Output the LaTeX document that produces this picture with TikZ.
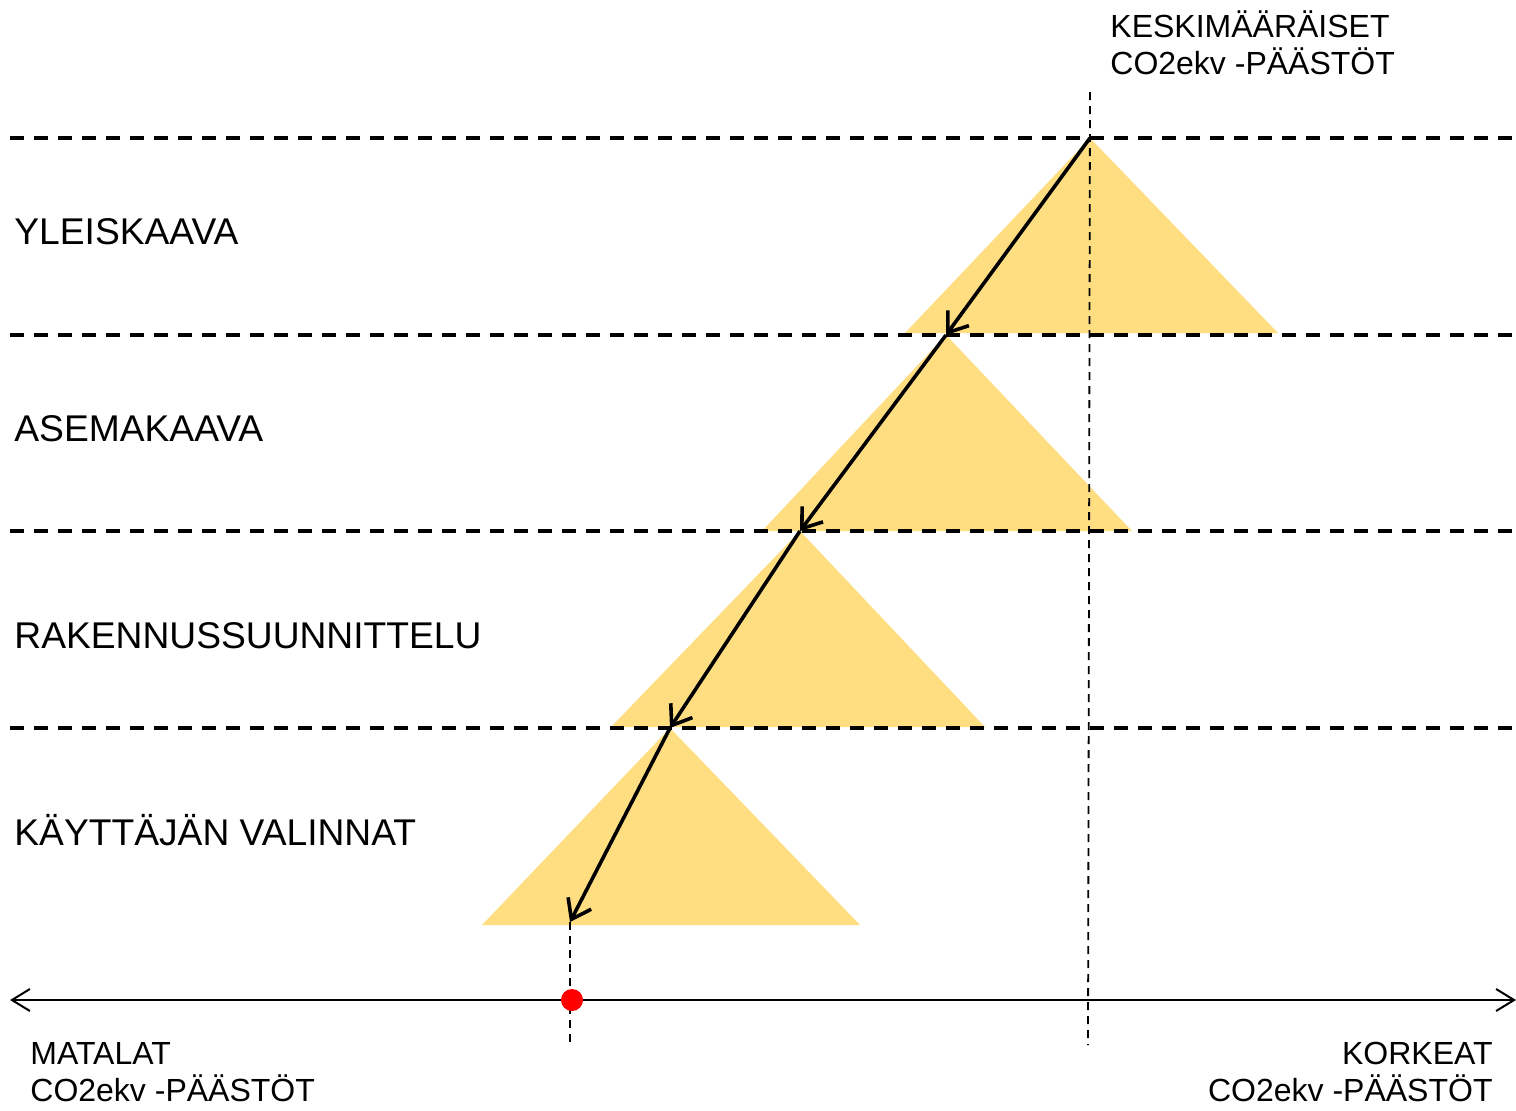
\documentclass[tikz,border=0pt]{standalone}
\usepackage{fontspec}
\setmainfont{Liberation Sans}
\usetikzlibrary{arrows.meta}
\definecolor{tri}{HTML}{FFDE82}
\definecolor{dotred}{HTML}{FF0000}
\tikzset{
  level/.style={line width=1.6pt, dash pattern=on 7pt off 5pt},
  vguide/.style={line width=0.9pt, dash pattern=on 4pt off 3pt},
  triangle/.style={fill=tri, draw=none},
  stepline/.style={line width=1.8pt, -{Straight Barb[length=9pt,width=13pt,line width=1.8pt]}},
  axisline/.style={line width=1pt, {Straight Barb[length=9pt,width=11pt,line width=1pt]}-{Straight Barb[length=9pt,width=11pt,line width=1pt]}},
  rowlabel/.style={anchor=base west, inner sep=0pt, font=\fontsize{18.6}{22}\selectfont},
  cornerlabel/.style={inner sep=0pt, font=\fontsize{16}{18.5}\selectfont}
}
\begin{document}
\begin{tikzpicture}[x=0.5pt,y=-0.5pt]
\useasboundingbox (0,0) rectangle (1516,1110);
% apexes
\coordinate (a1) at (1090,138);
\coordinate (a2) at (946,335);
\coordinate (a3) at (800,531);
\coordinate (a4) at (670,728);
\coordinate (a5) at (570,922);
% triangles
\fill[triangle] (a1) -- (1278,333) -- (905,333) -- cycle;
\fill[triangle] (a2) -- (1132,531) -- (762,531) -- cycle;
\fill[triangle] (a3) -- (985,727) -- (611,727) -- cycle;
\fill[triangle] (a4) -- (860,925) -- (482,925) -- cycle;
% level lines
\coordinate (l1w) at (10,138); \coordinate (l1e) at (1516,138);
\coordinate (l2w) at (10,335); \coordinate (l2e) at (1516,335);
\coordinate (l3w) at (10,531); \coordinate (l3e) at (1516,531);
\coordinate (l4w) at (10,728); \coordinate (l4e) at (1516,728);
\draw[level] (l1w) -- (l1e);
\draw[level] (l2w) -- (l2e);
\draw[level] (l3w) -- (l3e);
\draw[level] (l4w) -- (l4e);
% vertical guides
\coordinate (g1t) at (1090,92); \coordinate (g1b) at (1088,1045);
\coordinate (g2b) at (570,1045);
\draw[vguide] (g1t) -- (g1b);
\draw[vguide] (a5) -- (g2b);
% axis
\coordinate (axw) at (10,1000); \coordinate (axe) at (1516,1000);
\draw[axisline] (axw) -- (axe);
\node[circle, fill=dotred, inner sep=0pt, minimum size=11pt] (dot) at (572,1000) {};
% step arrows
\draw[stepline] (a1) -- (a2);
\draw[stepline] (a2) -- (a3);
\draw[stepline] (a3) -- (a4);
\draw[stepline] (a4) -- (a5);
% labels
\node[rowlabel] (yk) at (14,244) {YLEISKAAVA};
\node[rowlabel] (ak) at (14,441) {ASEMAKAAVA};
\node[rowlabel] (rs) at (14,648) {RAKENNUSSUUNNITTELU};
\node[rowlabel] (kv) at (14,845) {KÄYTTÄJÄN VALINNAT};
\node[cornerlabel, anchor=base west, align=left] (top) at (1110,74) {KESKIMÄÄRÄISET\\CO2ekv -PÄÄSTÖT};
\node[cornerlabel, anchor=base west, align=left] (low) at (30,1101) {MATALAT\\CO2ekv -PÄÄSTÖT};
\node[cornerlabel, anchor=base east, align=right] (high) at (1493,1101) {KORKEAT\\CO2ekv -PÄÄSTÖT};
\end{tikzpicture}
\end{document}
